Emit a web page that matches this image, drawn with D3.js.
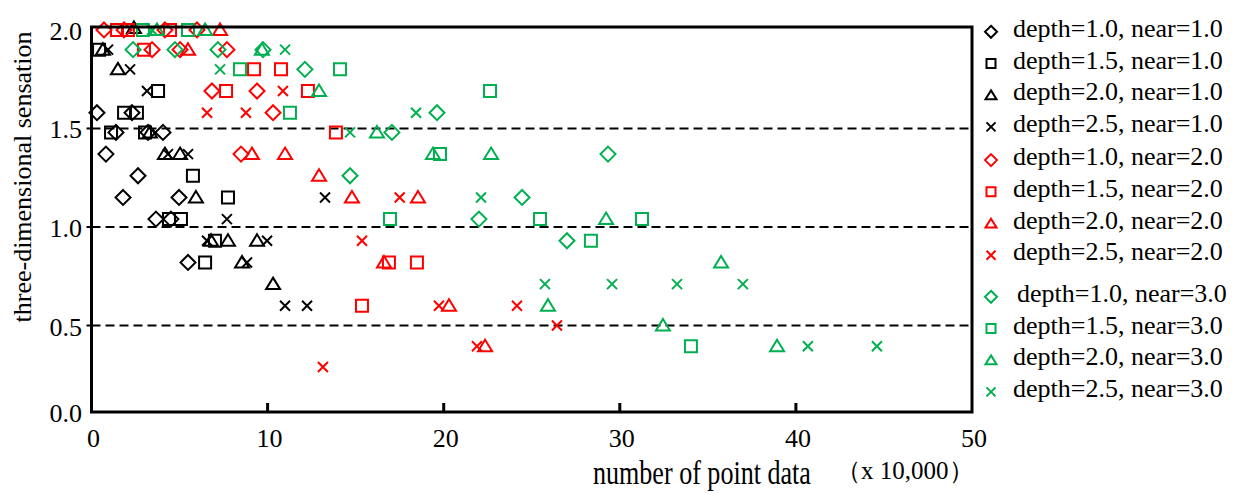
<!DOCTYPE html>
<html><head><meta charset="utf-8">
<script src="https://cdn.jsdelivr.net/npm/d3@7"></script>
<style>body{margin:0;background:#fff}svg{display:block}text{font-family:"Liberation Serif","Times New Roman",serif;fill:#000}</style>
</head><body><svg id="c" width="1236" height="494"></svg>
<script>
// ---------- data ----------
const xTicks = [0, 10, 20, 30, 40, 50];
const yTicks = [0, 0.5, 1.0, 1.5, 2.0];
const yTickLabels = ["0.0", "0.5", "1.0", "1.5", "2.0"];
const gridLevels = [0.5, 1.0, 1.5];
const seriesNames = [
  "depth=1.0, near=1.0", "depth=1.5, near=1.0", "depth=2.0, near=1.0", "depth=2.5, near=1.0",
  "depth=1.0, near=2.0", "depth=1.5, near=2.0", "depth=2.0, near=2.0", "depth=2.5, near=2.0",
  "depth=1.0, near=3.0", "depth=1.5, near=3.0", "depth=2.0, near=3.0", "depth=2.5, near=3.0"];
const seriesShapes = ["diamond","square","triangle","cross","diamond","square","triangle","cross","diamond","square","triangle","cross"];
const seriesColors = ["#000000","#000000","#000000","#000000","#ff0000","#ff0000","#ff0000","#ff0000","#00b050","#00b050","#00b050","#00b050"];

// near=1.0
const d10n10 = [[0.31,1.58],[0.82,1.37],[1.39,1.48],[1.79,1.15],[2.30,1.58],[2.64,1.26],[3.21,1.48],[3.66,1.04],[4.06,1.48],[4.51,1.04],[4.97,1.15],[5.48,0.82]];
const d15n10 = [[0.43,1.90],[1.11,1.48],[1.85,1.58],[2.58,1.58],[3.04,1.48],[3.78,1.69],[4.40,1.04],[5.08,1.04],[5.76,1.26],[6.45,0.82],[7.01,0.93],[7.75,1.15]];
const d20n10 = [[0.65,1.90],[1.50,1.80],[2.41,2.01],[3.32,1.48],[4.17,1.37],[5.03,1.37],[5.93,1.15],[6.79,0.93],[7.75,0.93],[8.55,0.82],[9.40,0.93],[10.31,0.71]];
const d25n10 = [[0.94,1.90],[2.19,1.80],[3.15,1.69],[4.34,1.37],[5.48,1.37],[6.56,0.93],[7.69,1.04],[8.83,0.82],[9.97,0.93],[10.99,0.60],[12.24,0.60],[13.26,1.15]];
// near=2.0
const d10n20 = [[0.71,2.0],[1.85,2.0],[4.17,2.0],[5.99,2.0],[3.44,1.90],[5.03,1.90],[7.69,1.90],[6.84,1.69],[9.40,1.69],[10.31,1.58],[8.49,1.37]];
const d15n20 = [[1.45,2.0],[2.07,2.0],[4.46,2.0],[2.98,1.90],[9.23,1.80],[10.76,1.80],[7.64,1.69],[12.29,1.69],[13.88,1.48],[16.89,0.82],[18.48,0.82],[15.36,0.60]];
const d20n20 = [[7.30,2.0],[5.48,1.90],[9.11,1.37],[10.99,1.37],[12.92,1.26],[14.79,1.15],[18.54,1.15],[16.61,0.82],[20.30,0.60],[22.35,0.38]];
const d25n20 = [[6.56,1.58],[8.77,1.58],[10.87,1.69],[17.50,1.15],[15.36,0.93],[19.73,0.60],[24.16,0.60],[26.43,0.50],[21.89,0.38],[13.14,0.26]];
// near=3.0
const d10n30 = [[2.36,1.90],[4.74,1.90],[7.18,1.90],[9.74,1.90],[12.12,1.80],[14.68,1.26],[17.06,1.48],[19.62,1.58],[22.00,1.04],[24.45,1.15],[27.00,0.93],[29.33,1.37]];
const d15n30 = [[2.92,2.0],[5.48,2.0],[8.43,1.80],[14.11,1.80],[11.27,1.58],[22.63,1.69],[19.79,1.37],[16.95,1.04],[25.47,1.04],[31.26,1.04],[28.36,0.93],[34.04,0.38]];
const d20n30 = [[6.45,2.0],[3.72,2.0],[9.68,1.90],[12.92,1.69],[16.21,1.48],[19.39,1.37],[22.69,1.37],[29.22,1.04],[25.92,0.60],[32.45,0.50],[35.75,0.82],[38.93,0.38]];
const d25n30 = [[3.44,2.0],[10.99,1.90],[7.30,1.80],[18.43,1.58],[14.68,1.48],[22.12,1.15],[25.75,0.71],[29.56,0.71],[33.25,0.71],[36.99,0.71],[40.68,0.38],[44.60,0.38]];

const seriesData = [d10n10,d15n10,d20n10,d25n10,d10n20,d15n20,d20n20,d25n20,d10n30,d15n30,d20n30,d25n30];

// ---------- drawing ----------
const svg = d3.select("#c");
const x = d3.scaleLinear().domain([0, 50]).range([91.5, 972]);
const y = d3.scaleLinear().domain([0, 0.5, 2.015]).range([412, 325.5, 27]);

function shapePath(shape, s) {
  if (shape === "diamond") return `M0,${-s.d}L${s.d},0L0,${s.d}L${-s.d},0Z`;
  if (shape === "square") return `M${-s.q},${-s.q}H${s.q}V${s.q}H${-s.q}Z`;
  if (shape === "triangle") return `M0,${-s.ta}L${s.tw},${s.tb}L${-s.tw},${s.tb}Z`;
  return `M${-s.c},${-s.c}L${s.c},${s.c}M${-s.c},${s.c}L${s.c},${-s.c}`;
}
const plotSize = {d:7.5, q:6, ta:6.5, tb:5, tw:7, c:5};
const legSize = {d:6, q:4.5, ta:4.8, tb:4, tw:5.5, c:4.5};

// dashed reference lines
svg.append("g").selectAll("line").data(gridLevels).join("line")
  .attr("x1", x(0)).attr("x2", x(50))
  .attr("y1", d => y(d)).attr("y2", d => y(d))
  .attr("stroke", "#000").attr("stroke-width", 2).attr("stroke-dasharray", "9,5");

// points
seriesData.forEach((data, i) => {
  svg.append("g").selectAll("path").data(data).join("path")
    .attr("transform", d => `translate(${x(d[0])},${y(d[1])})`)
    .attr("d", shapePath(seriesShapes[i], plotSize))
    .attr("fill", "none").attr("stroke", seriesColors[i]).attr("stroke-width", 2);
});

// frame
svg.append("rect").attr("x", x(0)).attr("y", y(2.015))
  .attr("width", x(50) - x(0)).attr("height", y(0) - y(2.015))
  .attr("fill", "none").attr("stroke", "#000").attr("stroke-width", 3);

// x ticks (inward) and labels
svg.append("g").selectAll("line").data(xTicks.slice(1, -1)).join("line")
  .attr("x1", d => x(d)).attr("x2", d => x(d)).attr("y1", y(0)).attr("y2", y(0) - 9)
  .attr("stroke", "#000").attr("stroke-width", 3);
svg.append("g").selectAll("text").data(xTicks).join("text")
  .attr("x", d => x(d) + 2).attr("y", 447).attr("text-anchor", "middle")
  .attr("font-size", 26).text(d => d);

// y ticks (outward) and labels
svg.append("g").selectAll("line").data(yTicks.slice(1, -1)).join("line")
  .attr("x1", x(0) - 5).attr("x2", x(0)).attr("y1", d => y(d)).attr("y2", d => y(d))
  .attr("stroke", "#000").attr("stroke-width", 2);
svg.append("g").selectAll("text").data(yTicks).join("text")
  .attr("x", 82).attr("y", d => y(d) + 10).attr("text-anchor", "end")
  .attr("font-size", 26).text((d, i) => yTickLabels[i]);

// axis titles
svg.append("text").attr("transform", "translate(31,177) rotate(-90)")
  .attr("text-anchor", "middle").attr("font-size", 26).text("three-dimensional sensation");
svg.append("text").attr("transform", "translate(593,484) scale(0.79,1.05)")
  .attr("font-size", 33).text("number of point data");
svg.append("text").attr("x", 836).attr("y", 479)
  .attr("font-size", 25).text("（x 10,000）");

// legend
const groupOffset = [0, 1.5, 11.4];
const leg = svg.append("g");
seriesNames.forEach((name, i) => {
  const base = 36.8 + i * 31.7 + groupOffset[Math.floor(i / 4)];
  leg.append("path").attr("transform", `translate(991,${base - 5})`)
    .attr("d", shapePath(seriesShapes[i], legSize))
    .attr("fill", "none").attr("stroke", seriesColors[i]).attr("stroke-width", 2);
  leg.append("text").attr("x", i === 8 ? 1017 : 1013).attr("y", base)
    .attr("font-size", 26).text(name);
});
</script></body></html>
